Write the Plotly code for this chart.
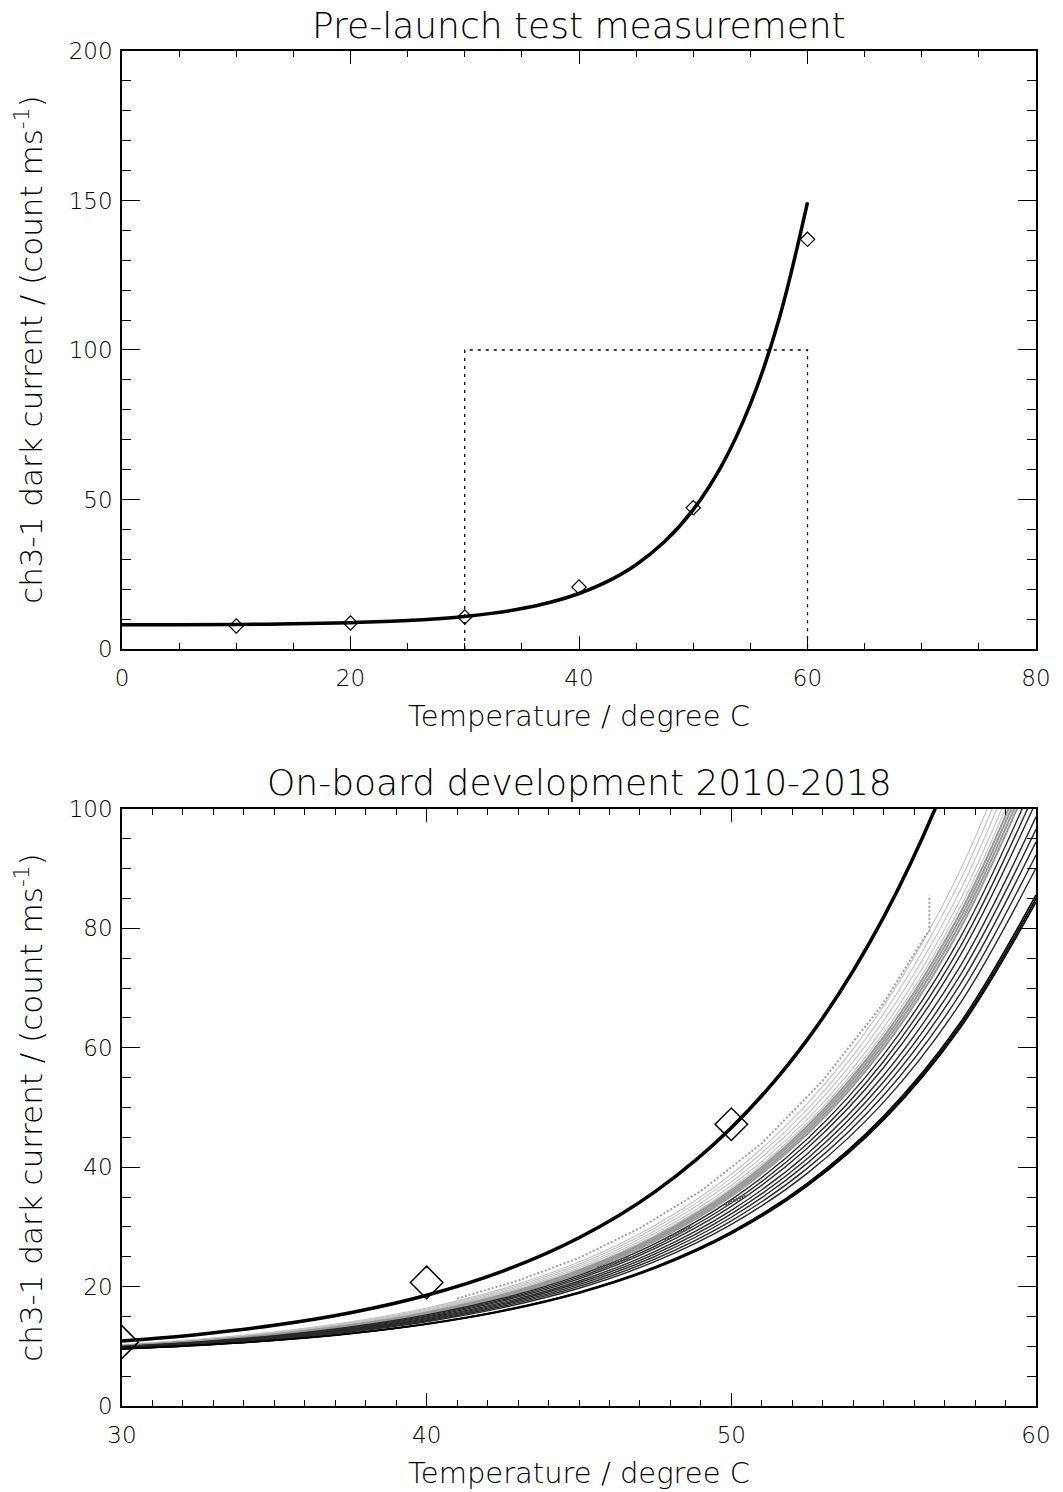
import plotly.graph_objects as go

# ---------------- data ----------------
# Pre-launch test: measured dark current at fixed temperatures
test_temp = [10, 20, 30, 40, 50, 60]
test_dark = [7.7, 8.7, 10.7, 20.7, 47.2, 137.0]

# Pre-launch fit curve, 0-60 degC
fit_temp = [0, 5, 10, 15, 20, 25, 30, 32.5, 35, 37.5, 40, 42.5, 45, 47.5, 50, 52.5, 55, 57.5, 60]
fit_dark = [8.06, 8.11, 8.21, 8.41, 8.79, 9.50, 10.88, 11.98, 13.51, 15.62, 18.55, 22.59,
            28.18, 35.92, 46.61, 61.41, 81.89, 110.22, 149.4]

# Dotted outline of the on-board temperature/dark-current window
box_temp = [30, 30, 60, 60]
box_dark = [0, 100, 100, 0]

# On-board curves 2010-2018, sampled every 2.5 degC from 30 to 60
board_temp = [30, 32.5, 35, 37.5, 40, 42.5, 45, 47.5, 50, 52.5, 55, 57.5, 60]
prelaunch_board = [10.88, 11.98, 13.51, 15.62, 18.55, 22.59, 28.18, 35.92, 46.61, 61.41, 81.89, 110.22, 149.4]

light_curves = [
    [10.30, 11.18, 12.40, 14.09, 16.42, 19.65, 24.11, 30.29, 38.83, 50.65, 67.00, 89.62, 120.9],
    [10.25, 11.11, 12.30, 13.96, 16.24, 19.40, 23.77, 29.82, 38.17, 49.74, 65.74, 87.88, 118.5],
    [10.20, 11.05, 12.21, 13.83, 16.07, 19.16, 23.44, 29.36, 37.55, 48.87, 64.54, 86.22, 116.2],
    [10.16, 10.99, 12.13, 13.71, 15.91, 18.94, 23.13, 28.93, 36.94, 48.04, 63.39, 84.63, 114.0],
    [10.12, 10.94, 12.06, 13.62, 15.78, 18.76, 22.89, 28.59, 36.48, 47.40, 62.50, 83.40, 112.3],
]
band_curves = [
    [10.10, 10.90, 12.01, 13.55, 15.68, 18.63, 22.70, 28.33, 36.13, 46.91, 61.83, 82.46, 111.0],
    [10.07, 10.87, 11.97, 13.49, 15.59, 18.50, 22.53, 28.10, 35.80, 46.46, 61.20, 81.59, 109.8],
    [10.05, 10.83, 11.92, 13.42, 15.50, 18.38, 22.36, 27.86, 35.47, 46.00, 60.57, 80.72, 108.6],
    [10.02, 10.80, 11.87, 13.36, 15.41, 18.26, 22.19, 27.62, 35.14, 45.55, 59.94, 79.86, 107.4],
]
dark_curves = [
    [9.98, 10.74, 11.79, 13.25, 15.26, 18.04, 21.89, 27.21, 34.57, 44.76, 58.85, 78.34, 105.3],
    [9.94, 10.68, 11.71, 13.13, 15.10, 17.82, 21.59, 26.79, 34.00, 43.96, 57.75, 76.82, 103.2],
    [9.90, 10.63, 11.63, 13.02, 14.95, 17.62, 21.30, 26.40, 33.45, 43.21, 56.70, 75.37, 101.2],
    [9.85, 10.56, 11.53, 12.89, 14.76, 17.36, 20.94, 25.91, 32.77, 42.26, 55.40, 73.57, 98.7],
    [9.80, 10.50, 11.45, 12.78, 14.61, 17.14, 20.64, 25.49, 32.19, 41.47, 54.30, 72.05, 96.6],
    [9.76, 10.44, 11.37, 12.66, 14.45, 16.93, 20.34, 25.08, 31.62, 40.68, 53.20, 70.53, 94.5],
    [9.72, 10.38, 11.28, 12.55, 14.29, 16.70, 20.03, 24.64, 31.02, 39.84, 52.05, 68.94, 92.3],
    [9.67, 10.31, 11.20, 12.43, 14.12, 16.47, 19.72, 24.21, 30.42, 39.01, 50.90, 67.35, 90.1],
]
latest_curves = [
    [9.58, 10.19, 11.02, 12.18, 13.79, 16.01, 19.07, 23.32, 29.19, 37.31, 48.55, 64.10, 85.6],
    [9.57, 10.17, 11.00, 12.15, 13.74, 15.95, 18.99, 23.20, 29.03, 37.09, 48.24, 63.66, 85.0],
    [9.56, 10.15, 10.98, 12.12, 13.70, 15.88, 18.90, 23.08, 28.86, 36.86, 47.92, 63.23, 84.4],
]

# Measured on-board samples
meas_temp = [41, 43, 45, 47, 49, 51, 53, 55, 56.4, 56.5, 56.5]
meas_dark = [18.0, 21.0, 24.8, 29.8, 36.0, 44.0, 54.5, 67.5, 79.0, 79.5, 85.5]
meas_segments = [
    ([45.6, 46.65], [23.1, 24.8]),
    ([47.8, 48.67], [27.8, 30.0]),
    ([49.8, 50.46], [33.7, 35.3]),
]

# ---------------- figure ----------------
FONT = "DejaVu Sans"
fig = go.Figure()

# top panel
fig.add_trace(go.Scatter(x=box_temp, y=box_dark, mode="lines",
                         line=dict(color="black", width=1.3, dash="3px,5px"),
                         xaxis="x", yaxis="y"))
fig.add_trace(go.Scatter(x=fit_temp, y=fit_dark, mode="lines",
                         line=dict(color="black", width=3.5, shape="spline"),
                         xaxis="x", yaxis="y"))
fig.add_trace(go.Scatter(x=test_temp, y=test_dark, mode="markers",
                         marker=dict(symbol="diamond-open", size=11, color="black",
                                     line=dict(width=1.2, color="black")),
                         xaxis="x", yaxis="y"))

# bottom panel
for ys in light_curves:
    fig.add_trace(go.Scatter(x=board_temp, y=ys, mode="lines",
                             line=dict(color="#c4c4c4", width=1.2, shape="spline"),
                             xaxis="x2", yaxis="y2"))
fig.add_trace(go.Scatter(x=meas_temp, y=meas_dark, mode="lines",
                         line=dict(color="#a0a0a0", width=2, dash="2px,2px"),
                         xaxis="x2", yaxis="y2"))
for ys in band_curves:
    fig.add_trace(go.Scatter(x=board_temp, y=ys, mode="lines",
                             line=dict(color="#9a9a9a", width=2, shape="spline"),
                             xaxis="x2", yaxis="y2"))
for ys in dark_curves:
    fig.add_trace(go.Scatter(x=board_temp, y=ys, mode="lines",
                             line=dict(color="#2a2a2a", width=1.4, shape="spline"),
                             xaxis="x2", yaxis="y2"))
for ys in latest_curves:
    fig.add_trace(go.Scatter(x=board_temp, y=ys, mode="lines",
                             line=dict(color="black", width=1.6, shape="spline"),
                             xaxis="x2", yaxis="y2"))
for sx, sy in meas_segments:
    fig.add_trace(go.Scatter(x=sx, y=sy, mode="lines",
                             line=dict(color="#555555", width=3, dash="2px,1px"),
                             xaxis="x2", yaxis="y2"))
fig.add_trace(go.Scatter(x=board_temp, y=prelaunch_board, mode="lines",
                         line=dict(color="black", width=3.5, shape="spline"),
                         xaxis="x2", yaxis="y2"))
fig.add_trace(go.Scatter(x=test_temp, y=test_dark, mode="markers", cliponaxis=True,
                         marker=dict(symbol="diamond-open", size=25, color="black",
                                     line=dict(width=1.5, color="black")),
                         xaxis="x2", yaxis="y2"))

tickfont = dict(family=FONT, size=23, color="black", weight=200)


def axis_style(rng, dtick, minor_dtick, ticklen, minorlen, domain, anchor, standoff):
    return dict(range=rng, domain=domain, anchor=anchor, dtick=dtick, tick0=0,
                showline=True, linecolor="black", linewidth=1.5, mirror="allticks",
                ticks="inside", ticklen=ticklen, tickwidth=1.2, tickcolor="black",
                minor=dict(ticks="inside", ticklen=minorlen, tickwidth=1.2,
                           tickcolor="black", dtick=minor_dtick, showgrid=False),
                showgrid=False, zeroline=False, tickfont=tickfont,
                ticklabelstandoff=standoff, fixedrange=True)


TOP_LO, TOP_HI = 0.5587, 1.0
BOT_LO, BOT_HI = 0.0, 0.4406

fig.update_layout(
    width=1063, height=1492,
    margin=dict(l=122, r=22, t=51, b=86),
    paper_bgcolor="white", plot_bgcolor="white",
    showlegend=False,
    xaxis=axis_style([0, 80], 20, 5, 13, 6, [0, 1], "y", 8),
    yaxis=axis_style([0, 200], 50, 10, 18, 9, [TOP_LO, TOP_HI], "x", 3),
    xaxis2=axis_style([30, 60], 10, 1, 13, 6, [0, 1], "y2", 8),
    yaxis2=axis_style([0, 100], 20, 5, 18, 9, [BOT_LO, BOT_HI], "x2", 3),
)

titlefont = dict(family=FONT, size=36, color="black", weight=200)
xlabelfont = dict(family=FONT, size=29, color="black", weight=200)
ylabelfont = dict(family=FONT, size=31, color="black", weight=200)
ylabel = "ch3-1 dark current / (count ms<sup>-1</sup>)"
xlabel = "Temperature / degree C"

fig.add_annotation(text="Pre-launch test measurement", x=0.5, y=1.0185,
                   xref="paper", yref="paper", showarrow=False, font=titlefont,
                   xanchor="center", yanchor="middle")
fig.add_annotation(text="On-board development 2010-2018", x=0.5, y=0.4600,
                   xref="paper", yref="paper", showarrow=False, font=titlefont,
                   xanchor="center", yanchor="middle")
fig.add_annotation(text=xlabel, x=0.5, y=0.5092, xref="paper", yref="paper",
                   showarrow=False, font=xlabelfont, xanchor="center", yanchor="middle")
fig.add_annotation(text=xlabel, x=0.5, y=-0.0494, xref="paper", yref="paper",
                   showarrow=False, font=xlabelfont, xanchor="center", yanchor="middle")
fig.add_annotation(text=ylabel, x=-0.1020, y=0.7793, xref="paper", yref="paper",
                   showarrow=False, font=ylabelfont, textangle=-90,
                   xanchor="center", yanchor="middle")
fig.add_annotation(text=ylabel, x=-0.1020, y=0.2199, xref="paper", yref="paper",
                   showarrow=False, font=ylabelfont, textangle=-90,
                   xanchor="center", yanchor="middle")

fig.write_html("out.html")
